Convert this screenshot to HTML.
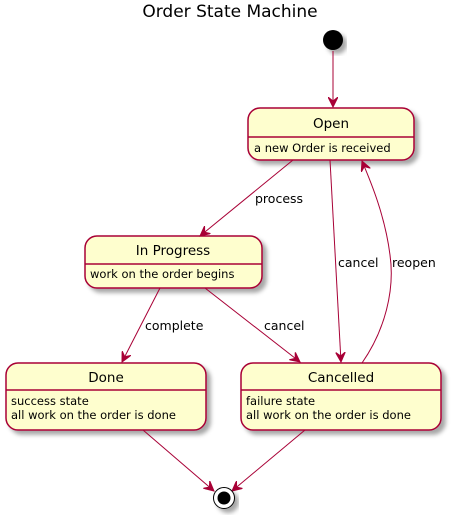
<!DOCTYPE html>
<html><head><style>body{margin:0;background:#fff}svg{display:block}</style></head><body>
<svg width="452" height="518" viewBox="0 0 452 518" xmlns="http://www.w3.org/2000/svg" font-family="DejaVu Sans, Liberation Sans, sans-serif">
<defs>
<marker id="a" markerWidth="12" markerHeight="10" refX="10" refY="5" orient="auto" markerUnits="userSpaceOnUse">
<polygon points="0,0 10,5 0,10 4,5" fill="#A80036" stroke="#A80036"/>
</marker>
<filter id="s" x="-10%" y="-10%" width="130%" height="140%"><feDropShadow dx="4" dy="4" stdDeviation="2" flood-color="#000" flood-opacity="0.35"/></filter>
</defs>
<text x="230" y="17" text-anchor="middle" font-size="17">Order State Machine</text>
<circle cx="333" cy="40" r="10" fill="#000" filter="url(#s)"/>
<g fill="#FEFECE" stroke="#A80036" stroke-width="1.5" filter="url(#s)">
<rect x="248" y="108" width="166" height="52" rx="12"/>
<rect x="85" y="236" width="177" height="52" rx="12"/>
<rect x="6" y="363" width="200" height="67" rx="12"/>
<rect x="241" y="363" width="200" height="67" rx="12"/>
</g>
<g stroke="#A80036" stroke-width="1.5">
<line x1="248" y1="137" x2="414" y2="137"/>
<line x1="85" y1="264" x2="262" y2="264"/>
<line x1="6" y1="390" x2="206" y2="390"/>
<line x1="241" y1="390" x2="441" y2="390"/>
</g>
<g font-size="13.5" text-anchor="middle" fill="#000">
<text x="331" y="128">Open</text>
<text x="173" y="255">In Progress</text>
<text x="106" y="382">Done</text>
<text x="341" y="382">Cancelled</text>
</g>
<g font-size="11.5" fill="#000">
<text x="254" y="152">a new Order is received</text>
<text x="90" y="278">work on the order begins</text>
<text x="11" y="405">success state</text>
<text x="11" y="419">all work on the order is done</text>
<text x="246" y="405">failure state</text>
<text x="246" y="419">all work on the order is done</text>
</g>
<g stroke="#A80036" stroke-width="1" fill="none" marker-end="url(#a)">
<line x1="333" y1="51" x2="333" y2="107"/>
<line x1="293" y1="160" x2="200" y2="236"/>
<line x1="330" y1="160" x2="341" y2="362"/>
<path d="M362,363 C385,330 395,290 390,255 C385,215 370,180 362,161"/>
<line x1="160" y1="288" x2="122" y2="362"/>
<line x1="205" y1="288" x2="300" y2="362"/>
<line x1="143" y1="430" x2="214" y2="491"/>
<line x1="305" y1="430" x2="232" y2="491"/>
</g>
<g font-size="12.5" fill="#000">
<text x="255" y="203">process</text>
<text x="338" y="267">cancel</text>
<text x="392" y="267">reopen</text>
<text x="145" y="330">complete</text>
<text x="264" y="330">cancel</text>
</g>
<g filter="url(#s)">
<circle cx="224" cy="498" r="10.5" fill="#fff" stroke="#000" stroke-width="1"/>
<circle cx="224" cy="498" r="6.5" fill="#000"/>
</g>
</svg>
</body></html>
